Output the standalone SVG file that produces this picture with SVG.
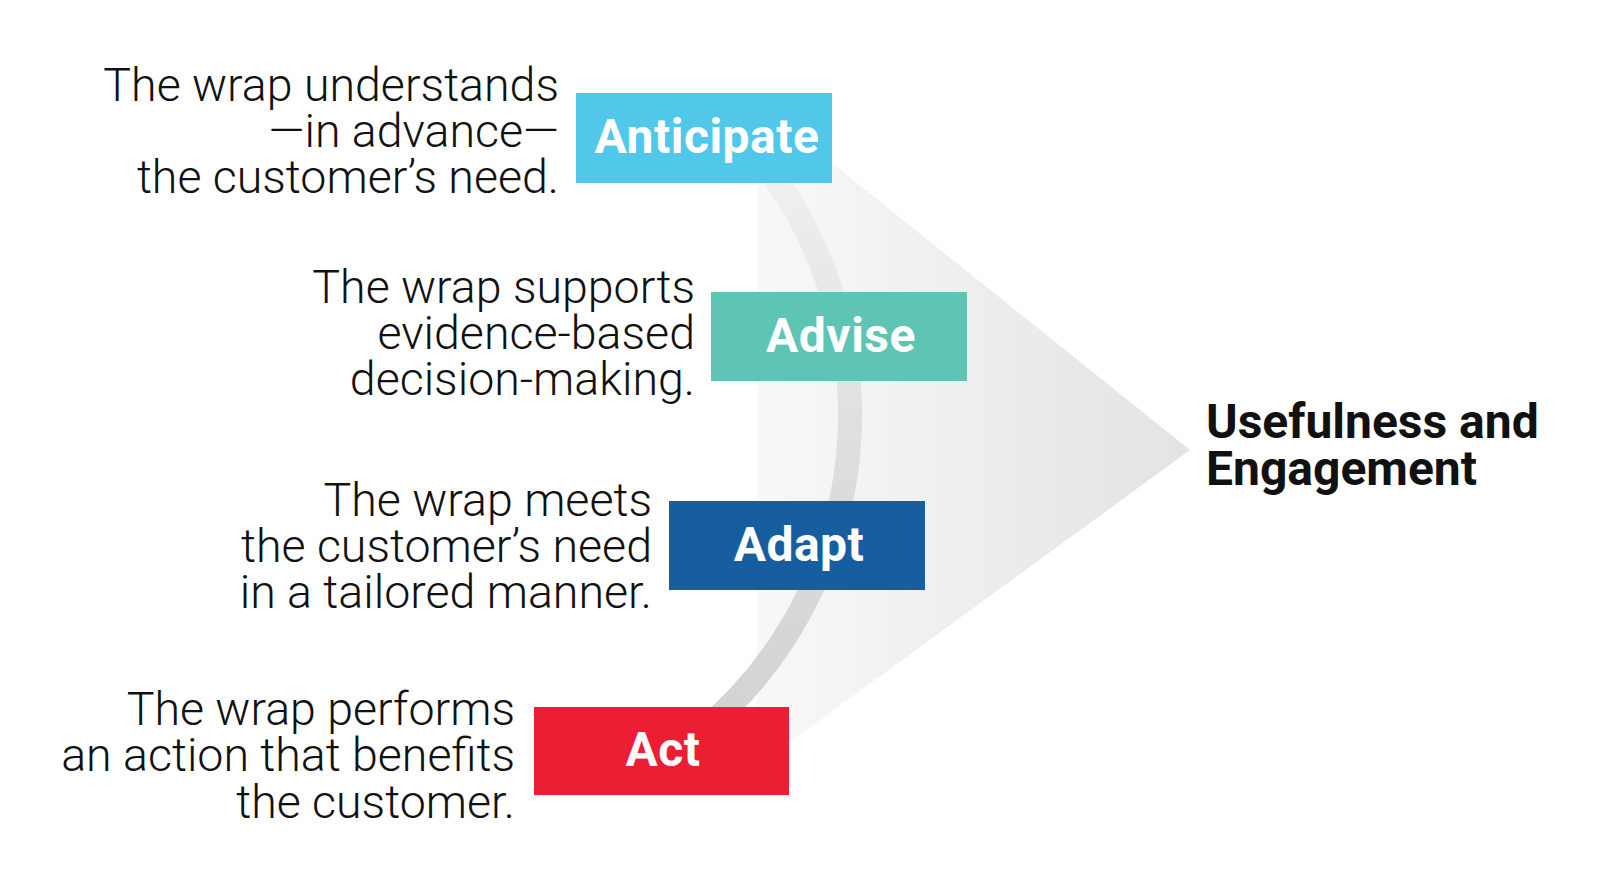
<svg xmlns="http://www.w3.org/2000/svg" width="1600" height="884" viewBox="0 0 1600 884">
  <style>
    .desc { font-family: Roboto, "Liberation Sans", sans-serif; font-weight: 300; font-size: 46.5px; fill: #111111; text-anchor: end; }
    .lbl { font-family: Roboto, "Liberation Sans", sans-serif; font-weight: 700; font-size: 48px; letter-spacing: 0.5px; fill: #ffffff; text-anchor: middle; }
    .goal { font-family: Roboto, "Liberation Sans", sans-serif; font-weight: 700; font-size: 48px; fill: #111111; }
  </style>
  <defs>
    <linearGradient id="triGrad" gradientUnits="userSpaceOnUse" x1="757" y1="0" x2="1190" y2="0">
      <stop offset="0" stop-color="#f8f8f9"/>
      <stop offset="1" stop-color="#e3e3e3"/>
    </linearGradient>
    <linearGradient id="arcGrad" gradientUnits="userSpaceOnUse" x1="0" y1="180" x2="0" y2="710">
      <stop offset="0" stop-color="#efeff0"/>
      <stop offset="0.5" stop-color="#dedede"/>
      <stop offset="1" stop-color="#d3d3d3"/>
    </linearGradient>
  </defs>
  <rect width="1600" height="884" fill="#ffffff"/>

  <g id="connectors">
    <polygon points="757,103 1190,450 757,766" fill="url(#triGrad)"/>
    <path d="M 753.5,150 A 412 412 0 0 1 703.6,730" fill="none" stroke="url(#arcGrad)" stroke-width="24"/>
  </g>

  <g id="anticipate">
    <text class="desc" x="559" y="101">The wrap understands</text>
    <text class="desc" x="559" y="147">—in advance—</text>
    <text class="desc" x="559" y="193">the customer’s need.</text>
    <rect x="576" y="93" width="256" height="90" fill="#51c8ea"/>
    <text class="lbl" x="707" y="153">Anticipate</text>
  </g>

  <g id="advise">
    <text class="desc" x="695" y="303">The wrap supports</text>
    <text class="desc" x="695" y="349">evidence-based</text>
    <text class="desc" x="695" y="395">decision-making.</text>
    <rect x="711" y="292" width="256" height="89" fill="#5ec4b3"/>
    <text class="lbl" x="841" y="352">Advise</text>
  </g>

  <g id="adapt">
    <text class="desc" x="652" y="516">The wrap meets</text>
    <text class="desc" x="652" y="562">the customer’s need</text>
    <text class="desc" x="652" y="608">in a tailored manner.</text>
    <rect x="669" y="501" width="256" height="89" fill="#175ea0"/>
    <text class="lbl" x="799" y="561">Adapt</text>
  </g>

  <g id="act">
    <text class="desc" x="515" y="725">The wrap performs</text>
    <text class="desc" x="515" y="771">an action that benefits</text>
    <text class="desc" x="515" y="818">the customer.</text>
    <rect x="534" y="707" width="255" height="88" fill="#ec1e33"/>
    <text class="lbl" x="663" y="766">Act</text>
  </g>

  <g id="usefulness">
    <text class="goal" x="1206" y="438">Usefulness and</text>
    <text class="goal" x="1206" y="485">Engagement</text>
  </g>
</svg>
